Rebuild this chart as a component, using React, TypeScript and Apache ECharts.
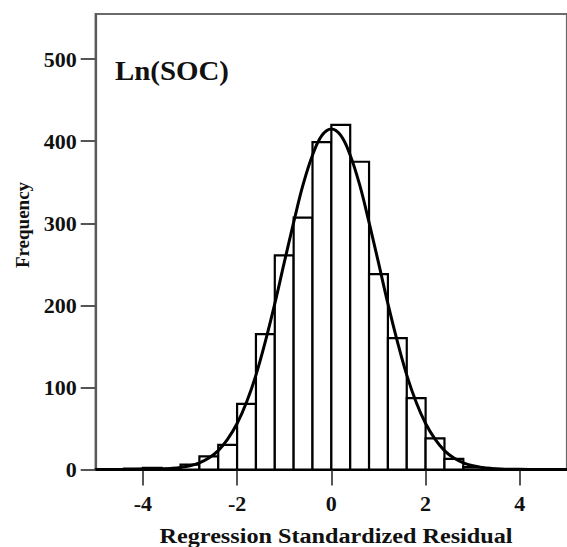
import React, { useEffect, useRef } from "react";
import * as echarts from "echarts";

// Histogram bins (left edges, width 0.4) and frequencies
const binWidth = 0.4;
const binStarts = [-4.4, -4.0, -3.6, -3.2, -2.8, -2.4, -2.0, -1.6, -1.2, -0.8, -0.4, 0.0, 0.4, 0.8, 1.2, 1.6, 2.0, 2.4, 2.8];
const binCounts = [1, 2, 1, 6, 16, 30, 80, 165, 261, 307, 399, 420, 375, 238, 160, 87, 38, 13, 3];

// Normal curve, points
const curveX = [-5.0, -4.6, -4.2, -3.8, -3.6, -3.4, -3.2, -3.0, -2.8, -2.6, -2.4, -2.2, -2.0, -1.8, -1.6, -1.4, -1.2, -1.0, -0.8, -0.6, -0.4, -0.2, 0.0,
  0.2, 0.4, 0.6, 0.8, 1.0, 1.2, 1.4, 1.6, 1.8, 2.0, 2.2, 2.4, 2.6, 2.8, 3.0, 3.2, 3.4, 3.6, 3.8, 4.2, 4.6, 5.0];
const curveY = [0, 0, 0.1, 0.3, 0.6, 1.3, 2.5, 4.6, 8.2, 14, 23, 37, 56, 82, 115, 156, 202, 252, 301, 347, 383, 407, 415,
  407, 383, 347, 301, 252, 202, 156, 115, 82, 56, 37, 23, 14, 8.2, 4.6, 2.5, 1.3, 0.6, 0.3, 0.1, 0, 0];

const xTicks = [-4, -2, 0, 2, 4];
const yTicks = [0, 100, 200, 300, 400, 500];

const serif = "Liberation Serif";

export default function App() {
  const ref = useRef<HTMLDivElement>(null);
  useEffect(() => {
    if (!ref.current) return;
    const chart = echarts.init(ref.current, undefined, { renderer: "svg" });
    const barData = binStarts.map((s, i) => [s, +(s + binWidth).toFixed(2), binCounts[i]]);
    const lineData = curveX.map((x, i) => [x, curveY[i]]);
    chart.setOption({
      animation: false,
      backgroundColor: "#fff",
      grid: {
        left: 95.7,
        top: 14,
        width: 483.3,
        height: 455.5,
        show: true,
        borderColor: "#6a6a6a",
        borderWidth: 2.2,
        backgroundColor: "transparent",
      },
      xAxis: {
        type: "value",
        min: -5,
        max: 5,
        splitLine: { show: false },
        axisLine: { show: true, onZero: false, lineStyle: { color: "#000", width: 3 } },
        axisTick: { show: true, length: 16, customValues: xTicks, lineStyle: { color: "#555", width: 2 } },
        axisLabel: {
          customValues: xTicks,
          margin: 23,
          fontFamily: serif,
          fontWeight: "bold",
          fontSize: 22,
          color: "#111",
        },
      },
      yAxis: {
        type: "value",
        min: 0,
        max: 555,
        splitLine: { show: false },
        axisLine: { show: true, onZero: false, lineStyle: { color: "#5a5a5a", width: 2.2 } },
        axisTick: { show: true, length: 15, customValues: yTicks, lineStyle: { color: "#555", width: 2 } },
        axisLabel: {
          customValues: yTicks,
          margin: 19,
          fontFamily: serif,
          fontWeight: "bold",
          fontSize: 22,
          color: "#111",
        },
      },
      graphic: [
        {
          type: "text",
          x: 115,
          y: 71,
          scaleX: 1.07,
          style: {
            text: "Ln(SOC)",
            fontFamily: serif,
            fontWeight: "bold",
            fontSize: 27,
            fill: "#111",
            align: "left",
            verticalAlign: "middle",
          },
        },
        {
          type: "text",
          x: 22.5,
          y: 225,
          rotation: Math.PI / 2,
          style: {
            text: "Frequency",
            fontFamily: serif,
            fontWeight: "bold",
            fontSize: 19,
            fill: "#111",
            align: "center",
            verticalAlign: "middle",
          },
        },
        {
          type: "text",
          x: 336,
          y: 535,
          scaleX: 1.1,
          style: {
            text: "Regression Standardized Residual",
            fontFamily: serif,
            fontWeight: "bold",
            fontSize: 22,
            fill: "#111",
            align: "center",
            verticalAlign: "middle",
          },
        },
      ],
      series: [
        {
          type: "custom",
          data: barData,
          encode: { x: [0, 1], y: 2 },
          renderItem: (params: any, api: any) => {
            const p0 = api.coord([api.value(0), api.value(2)]);
            const p1 = api.coord([api.value(1), 0]);
            return {
              type: "rect",
              shape: { x: p0[0], y: p0[1], width: p1[0] - p0[0], height: p1[1] - p0[1] },
              style: { fill: "#fff", stroke: "#000", lineWidth: 2.2 },
            };
          },
          z: 2,
        },
        {
          type: "line",
          data: lineData,
          smooth: 0.4,
          symbol: "none",
          lineStyle: { color: "#000", width: 3 },
          z: 3,
        },
      ],
    });
    return () => chart.dispose();
  }, []);
  return (
    <div
      ref={ref}
      style={{ position: "absolute", left: 0, top: 0, width: 567, height: 547, background: "#fff" }}
    />
  );
}
